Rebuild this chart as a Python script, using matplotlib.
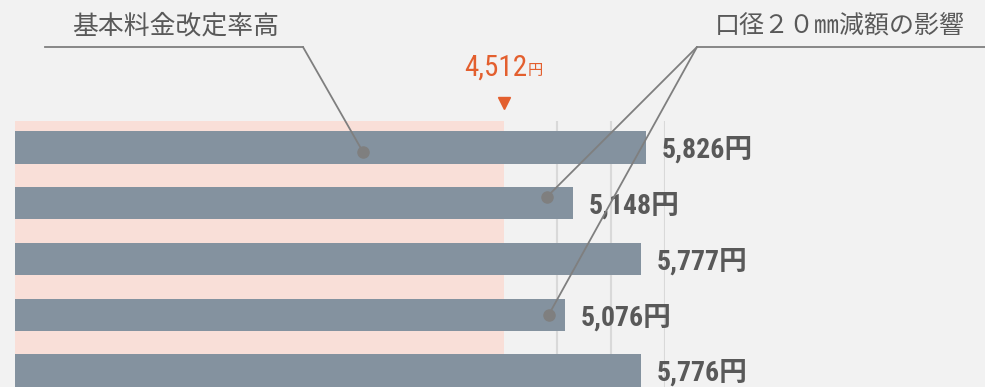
import matplotlib.pyplot as plt
from matplotlib.lines import Line2D
from matplotlib import font_manager

# monthly water bill per case (yen)
cases = ["A", "B", "C", "D", "E"]
bills = [5826, 5148, 5777, 5076, 5776]
baseline = 4512
baseline_label = "4,512"
note_left = "基本料金改定率高"
note_right = "口径２０㎜減額の影響"

BG = "#f2f2f2"
BAR = "#84929f"
BAND = "#f9dfd8"
ORANGE = "#e35f2e"
TXT = "#595959"
LINE = "#7f7f7f"

# pick a narrow face for the figures if one is installed
entries = font_manager.fontManager.ttflist
narrow_family, narrow_stretch = "DejaVu Sans", "normal"
for want in ["Roboto Condensed", "Liberation Sans Narrow", "Noto Sans Condensed",
             "Open Sans Condensed", "DejaVu Sans Condensed"]:
    if any(f.name == want for f in entries):
        narrow_family = want
        break
else:
    for want in ["Roboto", "Noto Sans", "Open Sans", "DejaVu Sans"]:
        if any(f.name == want and str(f.stretch) in ("condensed", "semi-condensed")
               for f in entries):
            narrow_family, narrow_stretch = want, "condensed"
            break
num_fonts = [narrow_family, "Noto Sans CJK JP"]
jp_fonts = ["Noto Sans CJK JP", "DejaVu Sans"]

W, H = 985, 387
fig = plt.figure(figsize=(W / 100, H / 100), dpi=100, facecolor=BG)

# axes run from 0 to 6000 yen, bottom row runs off the lower edge
ax = fig.add_axes([15 / W, -0.0437, 650 / W, 0.731])
ax.set_facecolor(BG)
ax.set_xlim(0, 6000)
ax.set_ylim(4.6, -0.475)
ax.set_xticks(range(0, 6001, 500))
ax.grid(axis="x", color="#d9d9d9", linewidth=1.5, zorder=0)
ax.set_axisbelow(True)
for s in ax.spines.values():
    s.set_visible(False)
ax.tick_params(left=False, bottom=False, labelleft=False, labelbottom=False)

ax.axvspan(0, baseline, color=BAND, zorder=1, linewidth=0)
ypos = list(range(len(cases)))
ax.barh(ypos, bills, height=0.58, color=BAR, zorder=2)

for y, v in zip(ypos, bills):
    ax.annotate(f"{v:,}円", (v, y), xytext=(11.5, -2), textcoords="offset points",
                va="center", ha="left", fontsize=20, fontweight="bold",
                fontstretch=narrow_stretch, color=TXT, family=num_fonts,
                annotation_clip=False)

# baseline marker above the band
trans = ax.get_xaxis_transform()
ax.plot([baseline], [1.065], marker="v", color=ORANGE, markersize=9,
        transform=trans, clip_on=False, zorder=5)
ax.annotate(baseline_label, (baseline, 1.0), xycoords=trans, xytext=(17, 33),
            textcoords="offset points", ha="right", va="baseline",
            fontsize=21, color=ORANGE, family=num_fonts,
            fontstretch=narrow_stretch, annotation_clip=False)
ax.annotate("円", (baseline, 1.0), xycoords=trans, xytext=(17, 33),
            textcoords="offset points", ha="left", va="baseline",
            fontsize=11, color=ORANGE, family=jp_fonts, annotation_clip=False)


def px(x, y):
    return x / W, 1 - y / H


# callout labels with leader lines
fig.text(*px(72, 26), note_left, fontsize=18.6, color=TXT, family=jp_fonts,
         va="center", ha="left")
fig.text(*px(965, 26), note_right, fontsize=18, color=TXT, family=jp_fonts,
         va="center", ha="right")
for x0, x1 in [(45, 303), (697, 985)]:
    fig.add_artist(Line2D([x0 / W, x1 / W], [1 - 47 / H] * 2, color=LINE,
                          linewidth=1.3, transform=fig.transFigure))

callouts = [((303, 47), (3212, 0.08)),
            ((697, 47), (4908, 0.89)),
            ((697, 47), (4927, 3.0))]
for elbow, dot in callouts:
    ax.annotate("", xy=dot, xycoords="data", xytext=px(*elbow),
                textcoords="figure fraction",
                arrowprops=dict(arrowstyle="-", color=LINE, lw=1.3,
                                shrinkA=0, shrinkB=0), zorder=6)
    ax.plot(*dot, "o", color=LINE, markersize=8, zorder=7, clip_on=False)

fig.savefig("out.png", dpi=100, facecolor=BG)
